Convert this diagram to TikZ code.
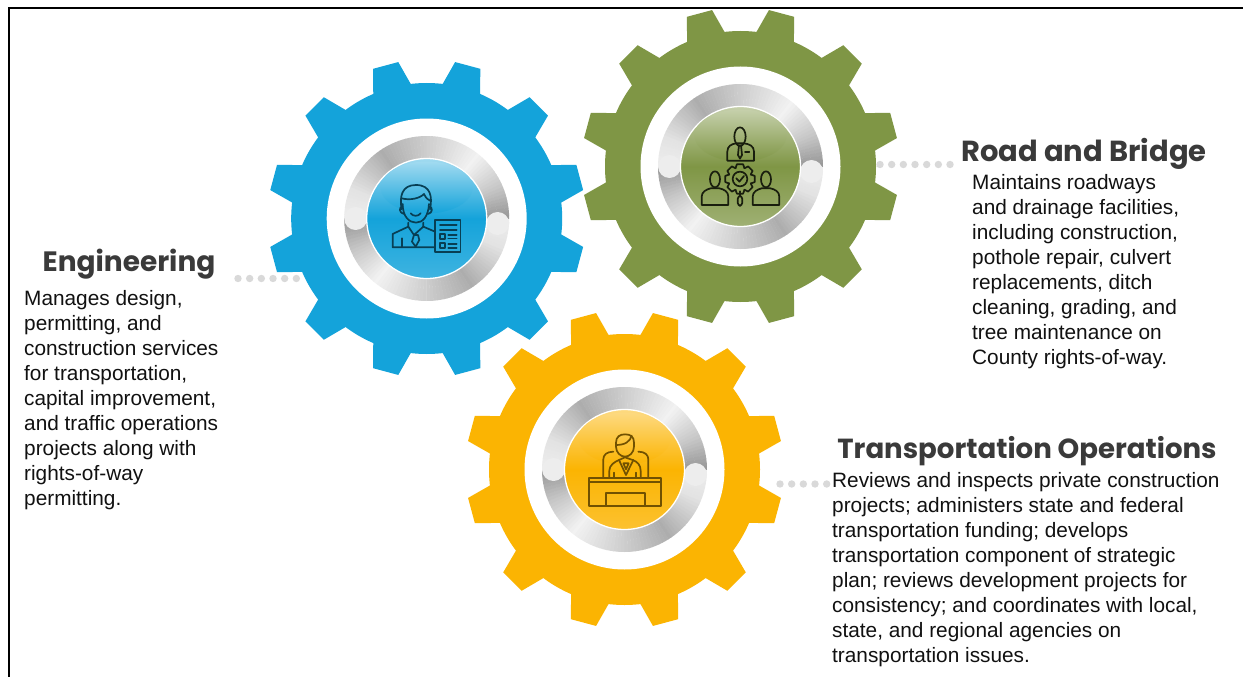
\documentclass[tikz,border=0pt]{standalone}
\usepackage{fontspec}
\setmainfont{Liberation Sans}
\newfontfamily\headfont{Poppins}
\definecolor{gblue}{HTML}{14A3DA}
\definecolor{ggreen}{HTML}{7F9645}
\definecolor{gyellow}{HTML}{FBB402}
\definecolor{headcol}{HTML}{3A3A3A}
\definecolor{bodycol}{HTML}{111111}
\definecolor{dotcol}{HTML}{D9D9D9}
\tikzset{
  bodytext/.style={anchor=north west,inner sep=0pt,align=left,text=bodycol,font=\fontsize{20.8}{25}\selectfont},
  headtext/.style={anchor=center,inner sep=0pt,text=headcol},
  dotline/.style={draw=dotcol,line width=7.4pt,line cap=round,dash pattern=on 0pt off 11.67pt},
  icon/.style={line width=1.7pt,line cap=round,line join=round},
  frameline/.style={draw=black,line width=2pt}
}
\newcommand{\hf}[1]{\headfont\bfseries\fontsize{#1}{30}\selectfont}
% #1 x, #2 y, #3 base, #4 gloss top, #5 bottom light
\newcommand{\gearunit}[5]{%
\begin{scope}[shift={(#1,#2)},y=1pt]
  \fill[#3] (0,0) circle[radius=135.5];
  \foreach \k in {0,...,11}{
    \pgfmathsetmacro\ca{15+30*\k-8.5}\pgfmathsetmacro\cb{15+30*\k-4.7}
    \pgfmathsetmacro\cc{15+30*\k+4.7}\pgfmathsetmacro\cd{15+30*\k+8.5}
    \fill[#3] (\ca:134) -- (\cb:159) -- (\cc:159) -- (\cd:134) -- cycle;
  }
  \fill[white] (0,0) circle[radius=100];
  \foreach \t in {0,2.5,...,177.5}{
    \pgfmathsetmacro\g{(\t<20 ? 93-(\t/20)*4 : (\t<55 ? 89-(\t-20)/35*21 : (\t<90 ? 68+(\t-55)/35*13 : (\t<128 ? 81+(\t-90)/38*14 : (\t<155 ? 95-(\t-128)/27*17 : 78-(\t-155)/25*20)))))/100}
    \definecolor{sw}{gray}{\g}
    \pgfmathsetmacro\aa{180-\t}\pgfmathsetmacro\ab{180-\t-2.8}
    \pgfmathsetmacro\ba{-\t}\pgfmathsetmacro\bb{-\t-2.8}
    \fill[sw] (\aa:58) -- (\aa:82.5) -- (\ab:82.5) -- (\ab:58) -- cycle;
    \fill[sw] (\ba:58) -- (\ba:82.5) -- (\bb:82.5) -- (\bb:58) -- cycle;
  }
  \fill[white!93!black] (-71,0) circle[radius=11.5];
  \fill[white!93!black] (71,-5) circle[radius=11.5];
  \shade[top color=#4,bottom color=#5,middle color=#3,draw=white,line width=1.3pt] (0,0) circle[radius=60];
  \shade[top color=#4,bottom color=#3] (0,31) ellipse[x radius=46,y radius=26];
\end{scope}}
\begin{document}
\begin{tikzpicture}[x=1pt,y=-1pt]
\useasboundingbox (0,0) rectangle (1243,677);
\fill[white] (0,0) rectangle (1243,677);
\coordinate (fa) at (9,677);\coordinate (fb) at (9,7.7);\coordinate (fc) at (1243,7.7);
\draw[frameline] (fa) -- (fb) -- (fc);

% dotted leaders
\coordinate (e1) at (238,278.5);\coordinate (e2) at (297,278.5);
\coordinate (r1) at (880,164.5);\coordinate (r2) at (951,164.5);
\coordinate (t1) at (780,484);\coordinate (t2) at (827.5,484);
\draw[dotline] (e1) -- (e2);
\draw[dotline] (r1) -- (r2);
\draw[dotline] (t1) -- (t2);

\gearunit{426.7}{218.5}{gblue}{white!60!gblue}{white!18!gblue}
\gearunit{740.5}{166.5}{ggreen}{white!55!ggreen}{white!25!ggreen}
\gearunit{624.5}{469.5}{gyellow}{white!50!gyellow}{white!18!gyellow}

% Engineering icon (coordinates in zoom space)
\begin{scope}[shift={(260,50)},x=.3333pt,y=-.3333pt,icon,draw=black!45!gblue!70!black]
  \draw (425,478) .. controls (418,440) and (425,405) .. (468,405) .. controls (512,405) and (518,440) .. (510,478);
  \draw (425,445) .. controls (450,452) and (480,445) .. (492,432) .. controls (498,445) and (505,450) .. (510,452);
  \draw (428,462) .. controls (428,500) and (448,518) .. (468,518) .. controls (488,518) and (505,500) .. (507,462);
  \draw (428,470) .. controls (415,470) and (418,490) .. (432,492);
  \draw (507,470) .. controls (520,470) and (518,490) .. (504,492);
  \draw (452,490) .. controls (460,500) and (474,500) .. (482,490);
  \draw (445,518) -- (445,530) -- (398,552) -- (398,592) -- (525,592);
  \draw (490,518) -- (490,530) -- (525,545);
  \draw (445,530) -- (462,555) -- (490,530);
  \draw (462,555) -- (474,555) -- (478,570) -- (467,590) -- (456,575) -- (462,555);
  \draw (425,565) -- (425,592);
  \draw (525,510) rectangle (602,607);
  \draw (540,525) -- (590,525); \draw (540,540) -- (590,540);
  \draw (540,552) rectangle (555,567);
  \draw (565,555) -- (590,555); \draw (565,566) -- (590,566);
  \draw (540,580) rectangle (555,595);
  \draw (565,583) -- (590,583); \draw (565,594) -- (590,594);
\end{scope}

% Road and Bridge icon
\begin{scope}[shift={(660,90)},x=.3333pt,y=-.3333pt,icon,draw=black!80!ggreen]
  \draw (240,140) ellipse[x radius=17,y radius=28];
  \draw (202,212) -- (202,185) .. controls (202,168) and (215,162) .. (228,160) -- (252,160) .. controls (268,162) and (282,168) .. (282,185) -- (282,212) -- cycle;
  \draw (237,165) -- (234,195) -- (240,206) -- (246,195) -- (243,165);
  \draw (255,185) -- (268,185);
  \draw (165,268) ellipse[x radius=15,y radius=24];
  \draw (125,345) -- (125,320) .. controls (125,305) and (140,298) .. (152,295) -- (178,295) .. controls (192,298) and (205,305) .. (205,320) -- (205,345) -- cycle;
  \draw (318,268) ellipse[x radius=15,y radius=24];
  \draw (278,345) -- (278,320) .. controls (278,305) and (293,298) .. (305,295) -- (331,295) .. controls (345,298) and (358,305) .. (358,320) -- (358,345) -- cycle;
  \foreach \k in {0,...,7}{
    \pgfmathsetmacro\c{45*\k}\pgfmathsetmacro\px{240+45*cos(\c-12)}\pgfmathsetmacro\py{267+45*sin(\c-12)}\pgfmathsetmacro\qx{240+45*cos(\c+12)}\pgfmathsetmacro\qy{267+45*sin(\c+12)}\pgfmathsetmacro\ux{240+35*cos(\c+22.5)}\pgfmathsetmacro\uy{267+35*sin(\c+22.5)}\pgfmathsetmacro\sx{240+35*cos(\c-22.5)}\pgfmathsetmacro\sy{267+35*sin(\c-22.5)}
    \draw (\sx,\sy) -- (\px,\py) -- (\qx,\qy) -- (\ux,\uy);
  }
  \draw (240,267) circle[radius=22];
  \draw (229,265) -- (238,275) -- (252,258);
  \draw (240,304) -- (240,318);
  \draw[rounded corners=3pt] (233,318) rectangle (247,347);
\end{scope}

% Transportation Operations icon
\begin{scope}[shift={(550,400)},x=.3333pt,y=-.3333pt,icon,draw=gyellow!45!black]
  \draw (198,128) .. controls (198,110) and (210,103) .. (225,103) .. controls (242,103) and (252,110) .. (252,128) -- (252,140) .. controls (252,158) and (238,170) .. (225,170) .. controls (212,170) and (198,158) .. (198,140) -- cycle;
  \draw (198,135) .. controls (225,135) and (240,125) .. (245,107);
  \draw (160,232) -- (160,178) .. controls (160,165) and (170,155) .. (190,155);
  \draw (295,232) -- (295,178) .. controls (295,165) and (285,155) .. (265,155);
  \draw (178,232) -- (178,212) .. controls (178,195) and (195,185) .. (207,180) -- (225,172) -- (248,180) .. controls (262,185) and (272,195) .. (272,212) -- (272,232);
  \draw (207,180) -- (228,225) -- (250,180);
  \draw (220,190) -- (236,190) -- (228,208) -- cycle;
  \draw (192,218) -- (192,232); \draw (258,218) -- (258,232);
  \draw (118,233) rectangle (333,318);
  \draw (118,246) -- (333,246);
  \draw (168,318) -- (168,280) -- (285,280) -- (285,318);
\end{scope}

% text
\node[headtext,font=\hf{28}] (h1) at (129,264) {Engineering};
\node[bodytext] (b1) at (24,290.7) {Manages design,\\permitting, and\\construction services\\for transportation,\\capital improvement,\\and traffic operations\\projects along with\\rights-of-way\\permitting.};
\node[headtext,font=\hf{29}] (h2) at (1084,154) {Road and Bridge};
\node[bodytext] (b2) at (972,174.7) {Maintains roadways\\and drainage facilities,\\including construction,\\pothole repair, culvert\\replacements, ditch\\cleaning, grading, and\\tree maintenance on\\County rights-of-way.};
\node[headtext,font=\hf{27.6}] (h3) at (1027,451) {Transportation Operations};
\node[bodytext] (b3) at (832,472.7) {Reviews and inspects private construction\\projects; administers state and federal\\transportation funding; develops\\transportation component of strategic\\plan; reviews development projects for\\consistency; and coordinates with local,\\state, and regional agencies on\\transportation issues.};
\end{tikzpicture}
\end{document}
